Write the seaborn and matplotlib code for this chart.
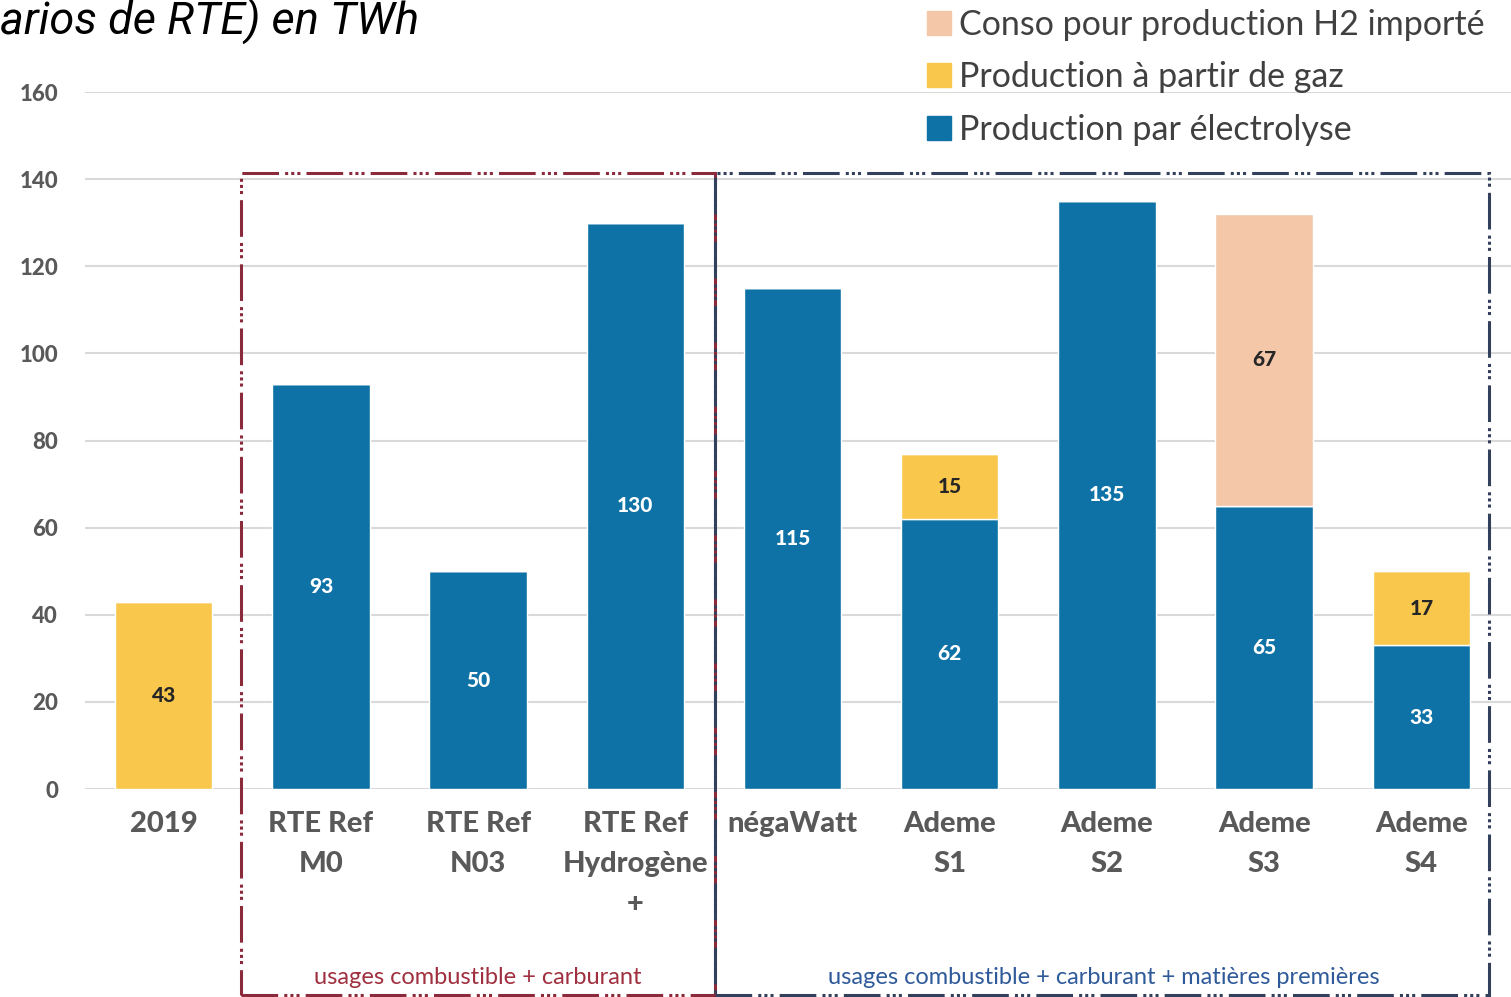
import numpy as np
import pandas as pd
import matplotlib
matplotlib.use("Agg")
import matplotlib.pyplot as plt
from matplotlib.patches import Rectangle
from matplotlib.lines import Line2D
import seaborn as sns

categories = ["2019", "RTE Ref\nM0", "RTE Ref\nN03", "RTE Ref\nHydrogène\n+", "négaWatt",
              "Ademe\nS1", "Ademe\nS2", "Ademe\nS3", "Ademe\nS4"]
electrolyse = [0, 93, 50, 130, 115, 62, 135, 65, 33]
gaz = [43, 0, 0, 0, 0, 15, 0, 0, 17]
importe = [0, 0, 0, 0, 0, 0, 0, 67, 0]
yticks = [0, 20, 40, 60, 80, 100, 120, 140, 160]
series_names = ["Conso pour production H2 importé", "Production à partir de gaz", "Production par électrolyse"]
title_text = "arios de RTE) en TWh"
group_labels = ["usages combustible + carburant", "usages combustible + carburant + matières premières"]

c_blue = "#0e72a6"
c_yellow = "#f9c74c"
c_peach = "#f4c7a8"

sns.set_theme(style="white")
plt.rcParams["font.family"] = ["Lato", "DejaVu Sans"]

df = pd.DataFrame({"cat": categories, "elec": electrolyse, "gaz": gaz, "imp": importe})
df["b_gaz"] = df["elec"]
df["b_imp"] = df["elec"] + df["gaz"]

fig = plt.figure(figsize=(15.11, 9.97), dpi=100)
ax = fig.add_axes([0.0563, 0.2086, 0.9437, 0.6991])

w = 0.62
sns.barplot(data=df, x="cat", y="elec", order=categories, color=c_blue, width=w,
            saturation=1, ax=ax, zorder=3)
sns.barplot(data=df, x="cat", y="gaz", order=categories, color=c_yellow, width=w,
            saturation=1, ax=ax, bottom=df["b_gaz"].values, zorder=3)
sns.barplot(data=df, x="cat", y="imp", order=categories, color=c_peach, width=w,
            saturation=1, ax=ax, bottom=df["b_imp"].values, zorder=3)

label_colors = ["white", "#262626", "#262626"]
for cont, vals, col in zip(ax.containers, [electrolyse, gaz, importe], label_colors):
    labs = [str(v) if v > 0 else "" for v in vals]
    ax.bar_label(cont, labels=labs, label_type="center", color=col,
                 fontsize=15, fontweight="black")

ax.set_ylim(0, 160)
ax.set_xlim(-0.5, 8.57)
ax.set_yticks(yticks)
ax.set_yticklabels([str(v) for v in yticks], fontsize=16, fontweight="black", color="#595959")
ax.tick_params(axis="y", pad=19.5, length=0)
ax.tick_params(axis="x", length=0, pad=16)
ax.set_xticks(range(len(categories)))
ax.set_xticklabels(categories, fontsize=21, fontweight="black", color="#595959", linespacing=1.65)
ax.yaxis.grid(True, color="#d9d9d9", linewidth=1.5, zorder=0)
ax.set_axisbelow(True)
for s in ax.spines.values():
    s.set_visible(False)
ax.set_xlabel("")
ax.set_ylabel("")

# group boxes
y_top = 141.4
y_bot = -47.3
red = "#8a2a3a"
navy = "#33405c"
ls = (0, (12, 2, 1, 1, 1, 1, 1, 2))
ax.add_patch(Rectangle((0.49, y_bot), 3.51 - 0.49, y_top - y_bot, fill=False,
                       edgecolor=red, linewidth=2.2, linestyle=ls, clip_on=False, zorder=4))
ax.add_patch(Rectangle((3.51, y_bot), 8.43 - 3.51, y_top - y_bot, fill=False,
                       edgecolor=navy, linewidth=2.2, linestyle=ls, clip_on=False, zorder=4))
ax.text(2.0, -43.2, group_labels[0], ha="center", va="center", fontsize=17,
        color="#a0303f", clip_on=False)
ax.text(5.98, -43.2, group_labels[1], ha="center", va="center", fontsize=17,
        color="#2f5a9a", clip_on=False)

fig.text(0.0, 1 - 21 / 997, title_text, ha="left", va="center", fontsize=32.5,
         style="italic", color="black", family=["Roboto", "DejaVu Sans"])

handles = [Line2D([], [], marker="s", linestyle="none", markersize=17, color=c)
           for c in [c_peach, c_yellow, c_blue]]
fig.legend(handles, series_names, loc="upper left", bbox_to_anchor=(896 / 1511, 1.022),
           frameon=False, fontsize=24.5, handlelength=0.7, handletextpad=0.25,
           labelspacing=0.6, labelcolor="#404040")

fig.savefig("out.png", dpi=100)
